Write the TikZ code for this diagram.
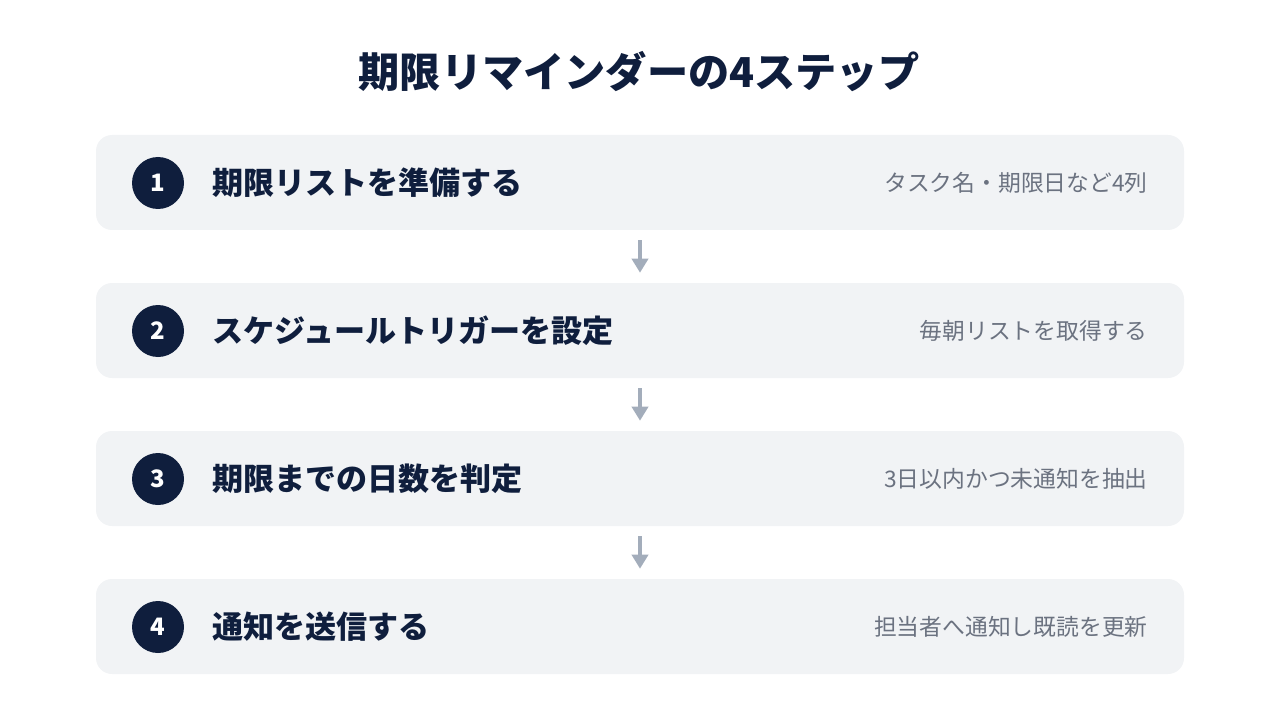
\documentclass[tikz,border=0pt]{standalone}
\usepackage{fontspec}
\setmainfont{Noto Sans CJK JP}
\usepackage{xcolor}
\usetikzlibrary{arrows.meta}

\definecolor{navy}{HTML}{0F1E3D}
\definecolor{boxgray}{HTML}{F1F3F5}
\definecolor{arrowgray}{HTML}{A3ADBB}
\definecolor{notegray}{HTML}{6B7280}

\tikzset{
  stepbox/.style={fill=boxgray, rounded corners=12pt, minimum width=816pt, minimum height=71.25pt, inner sep=0pt},
  stepnum/.style={circle, fill=navy, minimum size=39pt, inner sep=0pt, text=white, font=\bfseries\fontsize{18}{18}\selectfont},
  steplabel/.style={anchor=west, inner sep=0pt, text=navy, font=\bfseries\fontsize{23.3}{23.3}\selectfont},
  stepnote/.style={anchor=east, inner sep=0pt, text=notegray, font=\fontsize{17.1}{17.1}\selectfont},
  flowarrow/.style={arrowgray, line width=3pt, -{Triangle[length=10.5pt,width=12pt]}, shorten <=7.5pt, shorten >=7.5pt}
}

\begin{document}
\begin{tikzpicture}[x=0.75pt,y=0.75pt,yscale=-1,xscale=1]
    \useasboundingbox (0,0) rectangle (1280,720); %picture is 1280 x 720

    % Title
    \node [inner sep=0pt, text=navy, font=\bfseries\fontsize{30.9}{30.9}\selectfont] (title) at (639,72) {期限リマインダーの4ステップ};

    % Step boxes
    \node [stepbox] (box1) at (640,182.5) {};
    \node [stepbox] (box2) at (640,330.5) {};
    \node [stepbox] (box3) at (640,478.5) {};
    \node [stepbox] (box4) at (640,626.5) {};

    % Number circles
    \node [stepnum] (num1) at (158,183) {1};
    \node [stepnum] (num2) at (158,331) {2};
    \node [stepnum] (num3) at (158,479) {3};
    \node [stepnum] (num4) at (158,627) {4};

    % Text Node
    \node [steplabel] (label1) at (212,183) {期限リストを準備する};
    \node [steplabel] (label2) at (212,331) {スケジュールトリガーを設定};
    \node [steplabel] (label3) at (212,479) {期限までの日数を判定};
    \node [steplabel] (label4) at (212,627) {通知を送信する};

    % Text Node
    \node [stepnote] (note1) at (1148,183) {タスク名・期限日など4列};
    \node [stepnote] (note2) at (1148,331) {毎朝リストを取得する};
    \node [stepnote] (note3) at (1148,479) {3日以内かつ未通知を抽出};
    \node [stepnote] (note4) at (1148,627) {担当者へ通知し既読を更新};

    % Arrows between steps
    \draw [flowarrow] (box1.south) -- (box2.north);
    \draw [flowarrow] (box2.south) -- (box3.north);
    \draw [flowarrow] (box3.south) -- (box4.north);

\end{tikzpicture}
\end{document}
